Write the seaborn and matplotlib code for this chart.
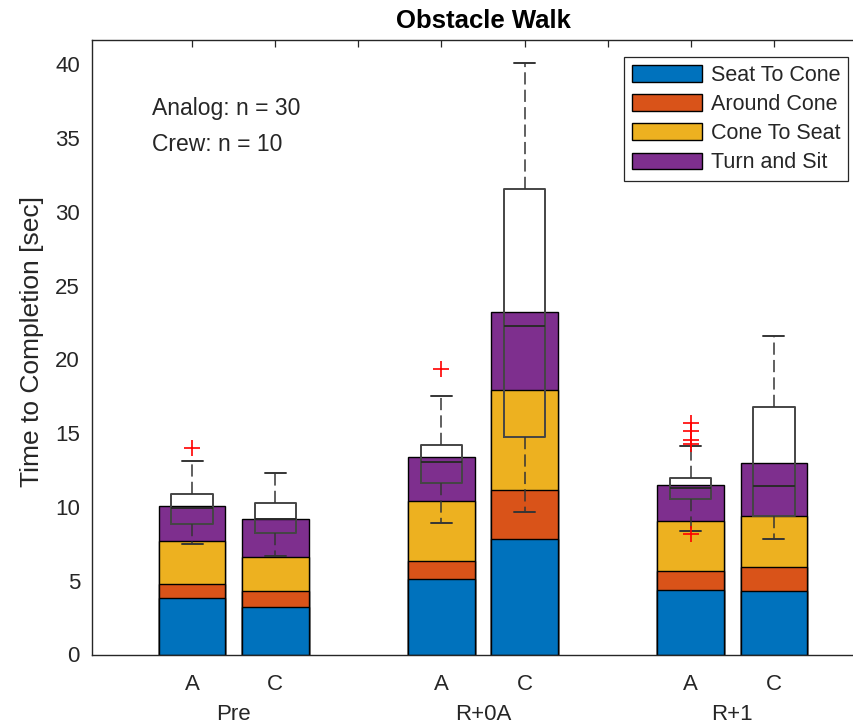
import matplotlib
matplotlib.use("Agg")
import matplotlib.pyplot as plt
import matplotlib.transforms as mtransforms
from matplotlib.patches import Patch
import numpy as np
import pandas as pd
import seaborn as sns

# ---------------- data ----------------
positions = [1, 2, 4, 5, 7, 8]
tick_positions = [1, 2, 3, 4, 5, 6, 7, 8]
tick_labels = ["A", "C", "", "A", "C", "", "A", "C"]
group_names = ["Pre", "R+0A", "R+1"]
group_centers = [1.5, 4.5, 7.5]

components = ["Seat To Cone", "Around Cone", "Cone To Seat", "Turn and Sit"]
seat_to_cone = [3.81, 3.20, 5.10, 7.81, 4.37, 4.31]
around_cone = [0.97, 1.08, 1.26, 3.32, 1.29, 1.62]
cone_to_seat = [2.91, 2.35, 4.07, 6.80, 3.41, 3.46]
turn_and_sit = [2.38, 2.54, 2.96, 5.31, 2.42, 3.57]

# box plot summaries of total time
box_q1 = [8.83, 8.22, 11.63, 14.77, 10.52, 9.39]
box_med = [9.91, 9.20, 13.07, 22.27, 11.27, 11.42]
box_q3 = [10.86, 10.29, 14.18, 31.56, 11.95, 16.80]
whisker_lo = [7.49, 6.70, 8.89, 9.68, 8.39, 7.85]
whisker_hi = [13.12, 12.33, 17.55, 40.08, 14.16, 21.59]
outliers = [[13.98], [], [19.36], [], [15.67, 15.17, 14.55, 14.30, 8.17], []]

colors = ["#0072BD", "#D95319", "#EDB120", "#7E2F8E"]

# ---------------- style ----------------
sns.set_style("white")
plt.rcParams["font.family"] = ["Liberation Sans", "DejaVu Sans"]
TXT = "#262626"

fig = plt.figure(figsize=(8.54, 7.24), dpi=100)
ax = fig.add_axes([92.5 / 854, 69.5 / 724, 781 / 854, 614.5 / 724])


def ax_y(py):
    return (654.5 - py) / 614.5


def ax_x(px):
    return (px - 92.5) / 781


# ---------------- stacked bars (cumulative, drawn tallest first) ----------------
segs = [seat_to_cone, around_cone, cone_to_seat, turn_and_sit]
cum = np.cumsum(np.array(segs), axis=0)
rows = []
for ci, comp in enumerate(components):
    for pi, pos in enumerate(positions):
        rows.append({"pos": pos, "component": comp, "top": cum[ci, pi]})
df = pd.DataFrame(rows)

order_draw = components[::-1]
pal = dict(zip(components, colors))
sns.barplot(data=df, x="pos", y="top", hue="component", hue_order=order_draw,
            palette=pal, dodge=False, native_scale=True, errorbar=None,
            edgecolor="black", linewidth=1.0, saturation=1.0, width=0.8,
            legend=False, ax=ax, zorder=2)

# ---------------- box plots ----------------
stats = []
for i in range(len(positions)):
    stats.append({"med": box_med[i], "q1": box_q1[i], "q3": box_q3[i],
                  "whislo": whisker_lo[i], "whishi": whisker_hi[i],
                  "fliers": outliers[i]})
ax.bxp(stats, positions=positions, widths=0.5, capwidths=0.25,
       showfliers=True, manage_ticks=False, zorder=4,
       boxprops=dict(color="#454545", linewidth=1.4),
       whiskerprops=dict(color="#353535", linewidth=1.1, linestyle=(0, (8.0, 3.4))),
       capprops=dict(color="#353535", linewidth=1.4),
       medianprops=dict(color="#2a2a2a", linewidth=1.4),
       flierprops=dict(marker="+", markeredgecolor="red", markersize=11,
                       markeredgewidth=1.2, linestyle="none"))

# ---------------- axes ----------------
ax.set_xlim(-0.2, 9.2)
ax.set_ylim(0, 41.66)
ax.set_xticks(tick_positions)
ax.set_xticklabels(tick_labels)
ax.set_yticks(np.arange(0, 41, 5))
ax.set_xlabel("")
ax.set_ylabel("Time to Completion [sec]", fontsize=19, color=TXT)
ax.yaxis.set_label_coords(ax_x(44), ax_y(341.5))
ax.tick_params(axis="both", direction="in", length=5, width=0.9,
               colors=TXT, labelsize=16, top=True, right=True)
ax.tick_params(axis="x", pad=14)
ax.tick_params(axis="y", pad=9)
for s in ax.spines.values():
    s.set_visible(True)
    s.set_color(TXT)
    s.set_linewidth(1.0)

ax.text(0.5, ax_y(28.3), "Obstacle Walk", transform=ax.transAxes, ha="center",
        va="baseline", fontsize=18.5, fontweight="bold", color="black")

trans = mtransforms.blended_transform_factory(ax.transData, ax.transAxes)
for gx, gname in zip(group_centers, group_names):
    ax.text(gx, ax_y(720.5), gname, transform=trans, ha="center", va="baseline",
            fontsize=16, color=TXT)

ax.text(ax_x(152), ax_y(115), "Analog: n = 30", transform=ax.transAxes,
        ha="left", va="baseline", fontsize=16.5, color=TXT)
ax.text(ax_x(152), ax_y(151), "Crew: n = 10", transform=ax.transAxes,
        ha="left", va="baseline", fontsize=16.5, color=TXT)

handles = [Patch(facecolor=c, edgecolor="black", linewidth=1.0) for c in colors]
leg = ax.legend(handles, components, loc="upper right",
                bbox_to_anchor=(ax_x(848), ax_y(57)),
                borderaxespad=0, fontsize=15.5, handlelength=3.25, handleheight=0.8,
                handletextpad=0.4, labelspacing=0.38, borderpad=0.36,
                fancybox=False, framealpha=1, edgecolor=TXT)
leg.get_frame().set_linewidth(0.9)
for t in leg.get_texts():
    t.set_color(TXT)

fig.savefig("out.png", dpi=100)
